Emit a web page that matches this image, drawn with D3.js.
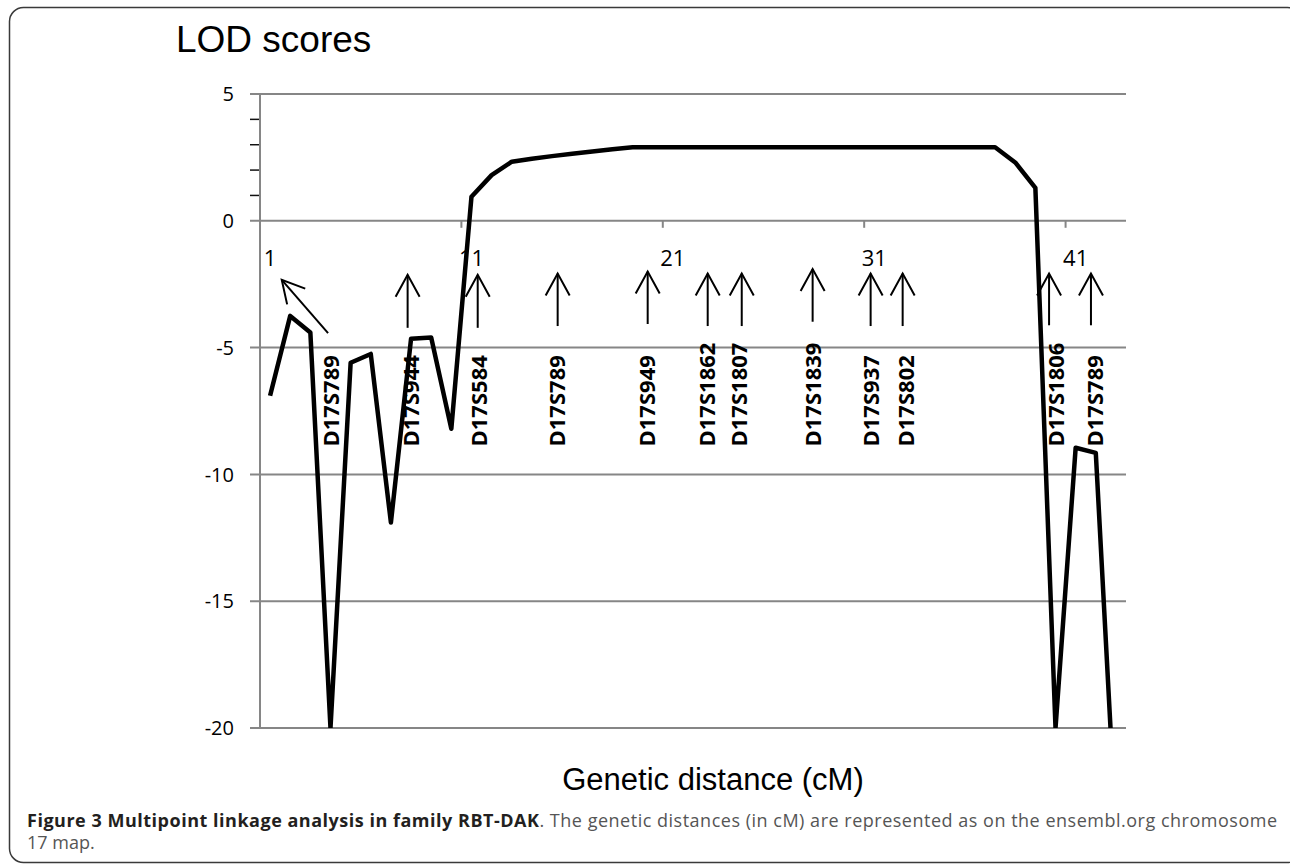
<!DOCTYPE html>
<html><head><meta charset="utf-8">
<script src="https://cdn.jsdelivr.net/npm/d3@7"></script>
<style>body{margin:0;background:#fff;overflow:hidden}</style>
</head><body>
<svg id="c" width="1290" height="865"></svg>
<script>
// ---- data ----
const categories = d3.range(1, 44);
const lodScores = [-6.9, -3.75, -4.4, -20, -5.6, -5.25, -11.9, -4.65, -4.6, -8.2,
  0.95, 1.8, 2.33, 2.45, 2.55, 2.64, 2.73, 2.82, 2.9, 2.9,
  2.9, 2.9, 2.9, 2.9, 2.9, 2.9, 2.9, 2.9, 2.9, 2.9,
  2.9, 2.9, 2.9, 2.9, 2.9, 2.9, 2.9, 2.3, 1.3, -20,
  -8.95, -9.15, -24];
const yTicks = [5, 0, -5, -10, -15, -20];
const yMinorTicks = [1, 2, 3, 4];
const xTickLabels = ["1", "11", "21", "31", "41"];
const xTickMarks = [10.5, 20.5, 30.5, 40.5];
const markerNames = ["D17S789", "D17S944", "D17S584", "D17S789", "D17S949", "D17S1862",
  "D17S1807", "D17S1839", "D17S937", "D17S802", "D17S1806", "D17S789"];
const markerPos = [4.01, 8.0, 11.37, 15.23, 19.70, 22.70, 24.30, 27.97, 30.82, 32.58, 40.02, 41.96];
const markerLabelStart = -8.9;
// arrows: [fromX, fromLOD, toX, toLOD]
const arrows = [
  [3.88, -4.43, 1.58, -2.33],
  [7.83, -4.22, 7.83, -2.13],
  [11.31, -4.22, 11.31, -2.13],
  [15.28, -4.15, 15.28, -2.08],
  [19.75, -4.07, 19.75, -2.0],
  [22.73, -4.15, 22.73, -2.08],
  [24.42, -4.15, 24.42, -2.08],
  [27.94, -3.98, 27.94, -1.9],
  [30.82, -4.15, 30.82, -2.08],
  [32.41, -4.15, 32.41, -2.08],
  [39.68, -4.12, 39.68, -2.08],
  [41.76, -4.12, 41.76, -2.08]
];
const titleY = "LOD scores";
const titleX = "Genetic distance (cM)";
const captionBold = "Figure 3 Multipoint linkage analysis in family RBT-DAK";
const captionRest = ". The genetic distances (in cM) are represented as on the ensembl.org chromosome";
const captionLine2 = "17 map.";

// ---- layout ----
const svg = d3.select("#c");
const L = 260, R = 1126, T = 94, B = 728;
const xBand = d3.scaleBand().domain(categories).range([L, R]).padding(0);
const xLin = d3.scaleLinear().domain([0.5, categories.length + 0.5]).range([L, R]);
const y = d3.scaleLinear().domain([-20, 5]).range([B, T]);
const cx = c => xBand(c) + xBand.bandwidth() / 2;

// frame
svg.append("rect").attr("x", 9.5).attr("y", 7.5).attr("width", 1292).attr("height", 855)
  .attr("rx", 14).attr("fill", "none").attr("stroke", "#3a3a3a").attr("stroke-width", 1.5);

// gridlines
svg.append("g").selectAll("line").data(yTicks).join("line")
  .attr("x1", L - 10).attr("x2", R).attr("y1", d => y(d)).attr("y2", d => y(d))
  .attr("stroke", "#868686").attr("stroke-width", 2);
// minor ticks
svg.append("g").selectAll("line").data(yMinorTicks).join("line")
  .attr("x1", L - 10).attr("x2", L).attr("y1", d => y(d)).attr("y2", d => y(d))
  .attr("stroke", "#111").attr("stroke-width", 1.5);
// y axis line
svg.append("line").attr("x1", L).attr("x2", L).attr("y1", y(5)).attr("y2", y(-20))
  .attr("stroke", "#868686").attr("stroke-width", 2);
// y labels
svg.append("g").selectAll("text").data(yTicks).join("text")
  .attr("x", L - 26).attr("y", d => y(d)).attr("dy", "0.36em")
  .attr("text-anchor", "end").attr("font-family", "'Open Sans', sans-serif")
  .attr("font-size", 20).attr("fill", "#000").text(d => String(d));

// x tick marks at category boundaries
svg.append("g").selectAll("line").data(xTickMarks).join("line")
  .attr("x1", d => xLin(d)).attr("x2", d => xLin(d)).attr("y1", y(0)).attr("y2", y(0) + 7)
  .attr("stroke", "#868686").attr("stroke-width", 2);
// x labels
svg.append("g").selectAll("text").data(xTickLabels).join("text")
  .attr("x", d => cx(+d)).attr("y", y(0) + 45)
  .attr("text-anchor", "middle").attr("font-family", "'Open Sans', sans-serif")
  .attr("font-size", 22).attr("fill", "#000").text(d => d);

// data line
svg.append("clipPath").attr("id", "plotclip").append("rect")
  .attr("x", L).attr("y", T - 10).attr("width", R - L).attr("height", B - T + 10);
const line = d3.line().x((d, i) => cx(categories[i])).y(d => y(d));
svg.append("path").datum(lodScores).attr("d", line)
  .attr("clip-path", "url(#plotclip)")
  .attr("fill", "none").attr("stroke", "#000").attr("stroke-width", 4.5)
  .attr("stroke-linejoin", "round");

// arrows
const defs = svg.append("defs");
defs.append("marker").attr("id", "ah").attr("markerUnits", "userSpaceOnUse")
  .attr("markerWidth", 40).attr("markerHeight", 40).attr("refX", 0).attr("refY", 0)
  .attr("viewBox", "-30 -20 40 40").attr("orient", "auto").attr("overflow", "visible")
  .append("path").attr("d", "M-22,-12 L0,0 L-22,12")
  .attr("fill", "none").attr("stroke", "#000").attr("stroke-width", 2);
svg.append("g").selectAll("line").data(arrows).join("line")
  .attr("x1", d => xLin(d[0])).attr("y1", d => y(d[1]))
  .attr("x2", d => xLin(d[2])).attr("y2", d => y(d[3]))
  .attr("stroke", "#000").attr("stroke-width", 2).attr("marker-end", "url(#ah)");

// marker labels
svg.append("g").selectAll("text").data(markerNames).join("text")
  .attr("transform", (d, i) => `translate(${xLin(markerPos[i])},${y(markerLabelStart)}) rotate(-90)`)
  .attr("dy", "0.36em").attr("text-anchor", "start")
  .attr("font-family", "'Open Sans', sans-serif").attr("font-weight", "bold")
  .attr("font-size", 22).attr("fill", "#000").text(d => d);

// titles
svg.append("text").attr("x", 176).attr("y", 52)
  .attr("font-family", "'Liberation Sans', Arial, sans-serif").attr("font-size", 37)
  .attr("fill", "#000").text(titleY);
svg.append("text").attr("x", 713).attr("y", 790).attr("text-anchor", "middle")
  .attr("font-family", "'Liberation Sans', Arial, sans-serif").attr("font-size", 31)
  .attr("fill", "#000").text(titleX);

// caption
const cap = svg.append("text").attr("x", 27).attr("y", 827)
  .attr("font-family", "'Open Sans', sans-serif").attr("font-size", 18)
  .attr("textLength", 1250).attr("lengthAdjust", "spacing");
cap.append("tspan").attr("font-weight", "bold").attr("fill", "#231f20").text(captionBold);
cap.append("tspan").attr("fill", "#555").text(captionRest);
svg.append("text").attr("x", 27).attr("y", 849)
  .attr("font-family", "'Open Sans', sans-serif").attr("font-size", 18)
  .attr("fill", "#555").text(captionLine2);
</script>
</body></html>
